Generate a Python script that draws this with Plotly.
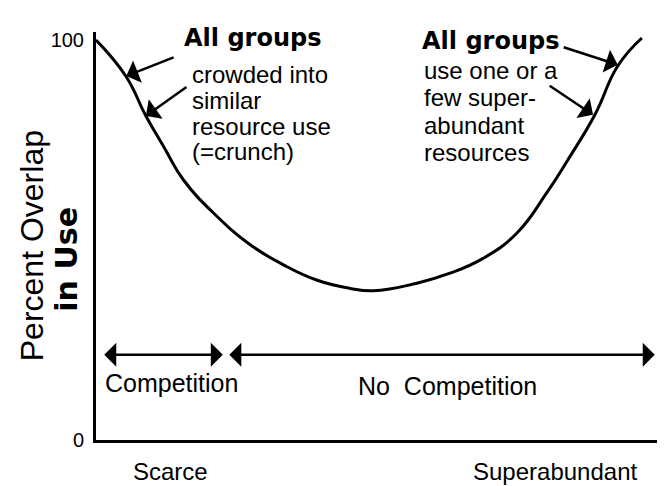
import plotly.graph_objects as go

# U-shaped overlap curve (x: 0 = scarce, 100 = superabundant)
resource_level = [0, 5.3, 8.9, 12.2, 15.6, 21.5, 27.5, 33.4, 39.3, 45.3, 49.4,
                  57.2, 63.1, 69.0, 75.0, 80.3, 84.1, 89.0, 93.0, 97.3]
percent_overlap = [100, 91, 81, 73, 65, 56, 48.8, 43.8, 40, 37.9, 37.3,
                   39.2, 41.7, 45.4, 51.7, 61.7, 70, 81.5, 93.5, 100.5]

y_ticks = [0, 100]
x_end_labels = ["Scarce", "Superabundant"]
left_note = ["crowded into", "similar", "resource use", "(=crunch)"]
right_note = ["use one or a", "few super-", "abundant", "resources"]

FONT = "Liberation Sans, Arial, sans-serif"
HAND = "DejaVu Sans, sans-serif"

fig = go.Figure()
fig.add_trace(go.Scatter(
    x=resource_level, y=percent_overlap, mode="lines",
    line=dict(color="black", width=3, shape="spline", smoothing=1.3),
    hoverinfo="skip", showlegend=False,
))

ann = []


def text(x, y, s, size=25, anchor="left", font=FONT, ref="x", **kw):
    ann.append(dict(x=x, y=y, xref="x", yref="y" if ref == "x" else "paper", text=s,
                    showarrow=False, xanchor=anchor, yanchor="middle",
                    font=dict(family=font, size=size, color="black"), **kw))


def arrow(x0, y0, x1, y1, both=False):
    ann.append(dict(x=x1, y=y1, ax=x0, ay=y0, xref="x", yref="y", axref="x", ayref="y",
                    text="", showarrow=True, arrowhead=1, arrowsize=1.6, arrowwidth=2.5,
                    arrowcolor="black", arrowside="end+start" if both else "end",
                    standoff=0, startstandoff=0))


# handwritten headers + arrows pointing at the curve
text(15.3, 100.5, "<b>All groups</b>", size=24, font=HAND)
text(57.7, 99.8, "<b>All groups</b>", size=24, font=HAND)
arrow(14.1, 95.8, 5.4, 91)
arrow(16.4, 88.5, 8.9, 81)
arrow(83.1, 98.3, 93.0, 93.8)
arrow(80.6, 88.8, 88.6, 81.3)

for i, s in enumerate(left_note):
    text(16.8, 91.3 - 6.4 * i, s, size=24)
for i, s in enumerate(right_note):
    text(58.1, 92.5 - 6.9 * i, s, size=24)

# competition ranges
arrow(1.2, 21.3, 22.6, 21.3, both=True)
arrow(23.5, 21.3, 99.6, 21.3, both=True)
text(1.2, 14.2, "Competition")
text(62.7, 13.5, "No  Competition", anchor="center")

# x end labels, below the axis
text(13.2, -0.078, x_end_labels[0], size=24, anchor="center", ref="paper")
text(81.8, -0.078, x_end_labels[1], size=24, anchor="center", ref="paper")

# y axis title (typed + handwritten)
ann.append(dict(x=-0.114, y=0.475, xref="paper", yref="paper", text="Percent Overlap",
                textangle=-90, showarrow=False, xanchor="center", yanchor="middle",
                font=dict(family=FONT, size=32, color="black")))
ann.append(dict(x=-0.052, y=0.444, xref="paper", yref="paper", text="<b>in Use</b>",
                textangle=-90, showarrow=False, xanchor="center", yanchor="middle",
                font=dict(family=HAND, size=30, color="black")))

fig.update_layout(
    width=670, height=486,
    margin=dict(l=96, r=13, t=32, b=46, autoexpand=False),
    paper_bgcolor="white", plot_bgcolor="white",
    annotations=ann,
    showlegend=False,
)
fig.update_xaxes(range=[0, 100], showline=True, linecolor="black", linewidth=3,
                 showgrid=False, zeroline=False, showticklabels=False, ticks="")
fig.update_yaxes(range=[0, 102], showline=True, linecolor="black", linewidth=3,
                 showgrid=False, zeroline=False, tickvals=y_ticks,
                 ticks="outside", ticklen=5, tickcolor="white",
                 tickfont=dict(family=FONT, size=20, color="black"))

# drop the browser's default 8px body margin so the figure sits at the page corner
fig.write_html("out.html", config={"displayModeBar": False},
               post_script="document.body.style.margin = '0';")
